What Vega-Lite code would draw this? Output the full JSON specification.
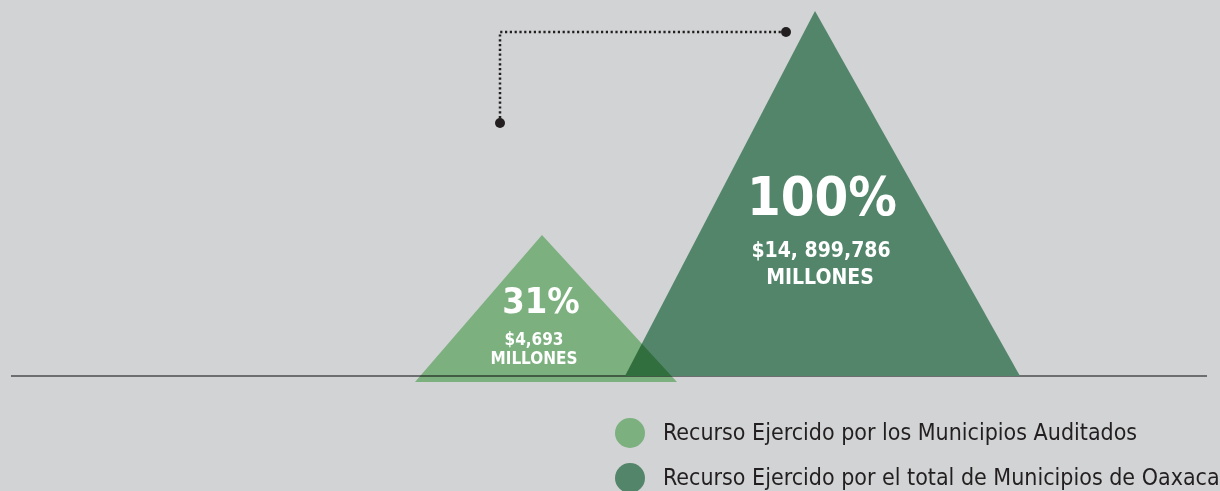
{
  "$schema": "https://vega.github.io/schema/vega-lite/v6.json",
  "width": 1220,
  "height": 491,
  "autosize": {"type": "none"},
  "padding": 0,
  "background": "#d1d3d4",
  "config": {"view": {"stroke": null}},
  "datasets": {
    "triangulos": [
      {"serie": "Recurso Ejercido por los Municipios Auditados", "x": 415, "y": -6, "base": -6},
      {"serie": "Recurso Ejercido por los Municipios Auditados", "x": 542, "y": 141, "base": -6},
      {"serie": "Recurso Ejercido por los Municipios Auditados", "x": 677, "y": -6, "base": -6},
      {"serie": "Recurso Ejercido por el total de Municipios de Oaxaca", "x": 625, "y": 0, "base": 0},
      {"serie": "Recurso Ejercido por el total de Municipios de Oaxaca", "x": 815, "y": 365, "base": 0},
      {"serie": "Recurso Ejercido por el total de Municipios de Oaxaca", "x": 1020, "y": 0, "base": 0}
    ],
    "conector": [
      {"x": 500, "y": 253, "orden": 1},
      {"x": 500, "y": 344, "orden": 2},
      {"x": 786, "y": 344, "orden": 3}
    ],
    "extremos": [
      {"x": 500, "y": 253},
      {"x": 786, "y": 344}
    ],
    "linea_base": [{"x": 11, "x2": 1207, "y": 0}],
    "etiquetas": [
      {"texto": "100%", "x": 822, "y": 161, "tipo": "pct_total"},
      {"texto": "$14, 899,786", "x": 821, "y": 119, "tipo": "det_total"},
      {"texto": "MILLONES", "x": 820, "y": 92, "tipo": "det_total"},
      {"texto": "31%", "x": 541, "y": 63, "tipo": "pct_aud"},
      {"texto": "$4,693", "x": 534, "y": 31, "tipo": "det_aud"},
      {"texto": "MILLONES", "x": 534, "y": 12, "tipo": "det_aud"}
    ]
  },
  "layer": [
    {
      "data": {"name": "linea_base"},
      "mark": {"type": "rule", "color": "#6d6e70", "strokeWidth": 2},
      "encoding": {
        "x": {"field": "x", "type": "quantitative", "scale": {"domain": [0, 1220], "nice": false, "zero": false}, "axis": null},
        "x2": {"field": "x2"},
        "y": {"field": "y", "type": "quantitative", "scale": {"domain": [-115, 376], "nice": false, "zero": false}, "axis": null}
      }
    },
    {
      "data": {"name": "triangulos"},
      "transform": [{"filter": "datum.serie == 'Recurso Ejercido por el total de Municipios de Oaxaca'"}],
      "mark": {"type": "area", "fill": "#53856a", "opacity": 1},
      "encoding": {
        "x": {"field": "x", "type": "quantitative"},
        "y": {"field": "y", "type": "quantitative", "stack": null},
        "y2": {"field": "base"}
      }
    },
    {
      "data": {"name": "triangulos"},
      "transform": [{"filter": "datum.serie == 'Recurso Ejercido por los Municipios Auditados'"}],
      "mark": {"type": "area", "fill": "#97d598", "opacity": 1, "blend": "multiply"},
      "encoding": {
        "x": {"field": "x", "type": "quantitative"},
        "y": {"field": "y", "type": "quantitative", "stack": null},
        "y2": {"field": "base"}
      }
    },
    {
      "data": {"name": "triangulos"},
      "mark": {"type": "point", "opacity": 0, "filled": true},
      "encoding": {
        "x": {"field": "x", "type": "quantitative"},
        "y": {"field": "y", "type": "quantitative"},
        "color": {
          "field": "serie",
          "type": "nominal",
          "scale": {
            "domain": ["Recurso Ejercido por los Municipios Auditados", "Recurso Ejercido por el total de Municipios de Oaxaca"],
            "range": ["#7cb07e", "#53856a"]
          },
          "legend": {
            "title": null,
            "orient": "none",
            "legendX": 615,
            "legendY": 418,
            "padding": 0,
            "symbolType": "circle",
            "symbolSize": 900,
            "symbolOpacity": 1,
            "symbolStrokeWidth": 0,
            "labelFont": "DejaVu Sans Condensed, sans-serif",
            "labelFontSize": 23,
            "labelColor": "#231f20",
            "labelLimit": 0,
            "labelOffset": 18,
            "rowPadding": 15
          }
        }
      }
    },
    {
      "data": {"name": "conector"},
      "mark": {"type": "line", "color": "#231f20", "strokeWidth": 2.5, "strokeDash": [2.2, 2.6]},
      "encoding": {
        "x": {"field": "x", "type": "quantitative"},
        "y": {"field": "y", "type": "quantitative"},
        "order": {"field": "orden"}
      }
    },
    {
      "data": {"name": "extremos"},
      "mark": {"type": "point", "shape": "circle", "filled": true, "color": "#231f20", "opacity": 1, "size": 100},
      "encoding": {
        "x": {"field": "x", "type": "quantitative"},
        "y": {"field": "y", "type": "quantitative"}
      }
    },
    {
      "data": {"name": "etiquetas"},
      "transform": [{"filter": "datum.tipo == 'pct_total'"}],
      "mark": {"type": "text", "color": "white", "fontWeight": "bold", "fontSize": 54, "align": "center", "baseline": "alphabetic", "font": "DejaVu Sans Condensed, sans-serif"},
      "encoding": {
        "x": {"field": "x", "type": "quantitative"},
        "y": {"field": "y", "type": "quantitative"},
        "text": {"field": "texto"}
      }
    },
    {
      "data": {"name": "etiquetas"},
      "transform": [{"filter": "datum.tipo == 'det_total'"}],
      "mark": {"type": "text", "color": "white", "fontWeight": "bold", "fontSize": 21, "align": "center", "baseline": "alphabetic", "font": "DejaVu Sans Condensed, sans-serif"},
      "encoding": {
        "x": {"field": "x", "type": "quantitative"},
        "y": {"field": "y", "type": "quantitative"},
        "text": {"field": "texto"}
      }
    },
    {
      "data": {"name": "etiquetas"},
      "transform": [{"filter": "datum.tipo == 'pct_aud'"}],
      "mark": {"type": "text", "color": "white", "fontWeight": "bold", "fontSize": 36, "align": "center", "baseline": "alphabetic", "font": "DejaVu Sans Condensed, sans-serif"},
      "encoding": {
        "x": {"field": "x", "type": "quantitative"},
        "y": {"field": "y", "type": "quantitative"},
        "text": {"field": "texto"}
      }
    },
    {
      "data": {"name": "etiquetas"},
      "transform": [{"filter": "datum.tipo == 'det_aud'"}],
      "mark": {"type": "text", "color": "white", "fontWeight": "bold", "fontSize": 17, "align": "center", "baseline": "alphabetic", "font": "DejaVu Sans Condensed, sans-serif"},
      "encoding": {
        "x": {"field": "x", "type": "quantitative"},
        "y": {"field": "y", "type": "quantitative"},
        "text": {"field": "texto"}
      }
    }
  ]
}
